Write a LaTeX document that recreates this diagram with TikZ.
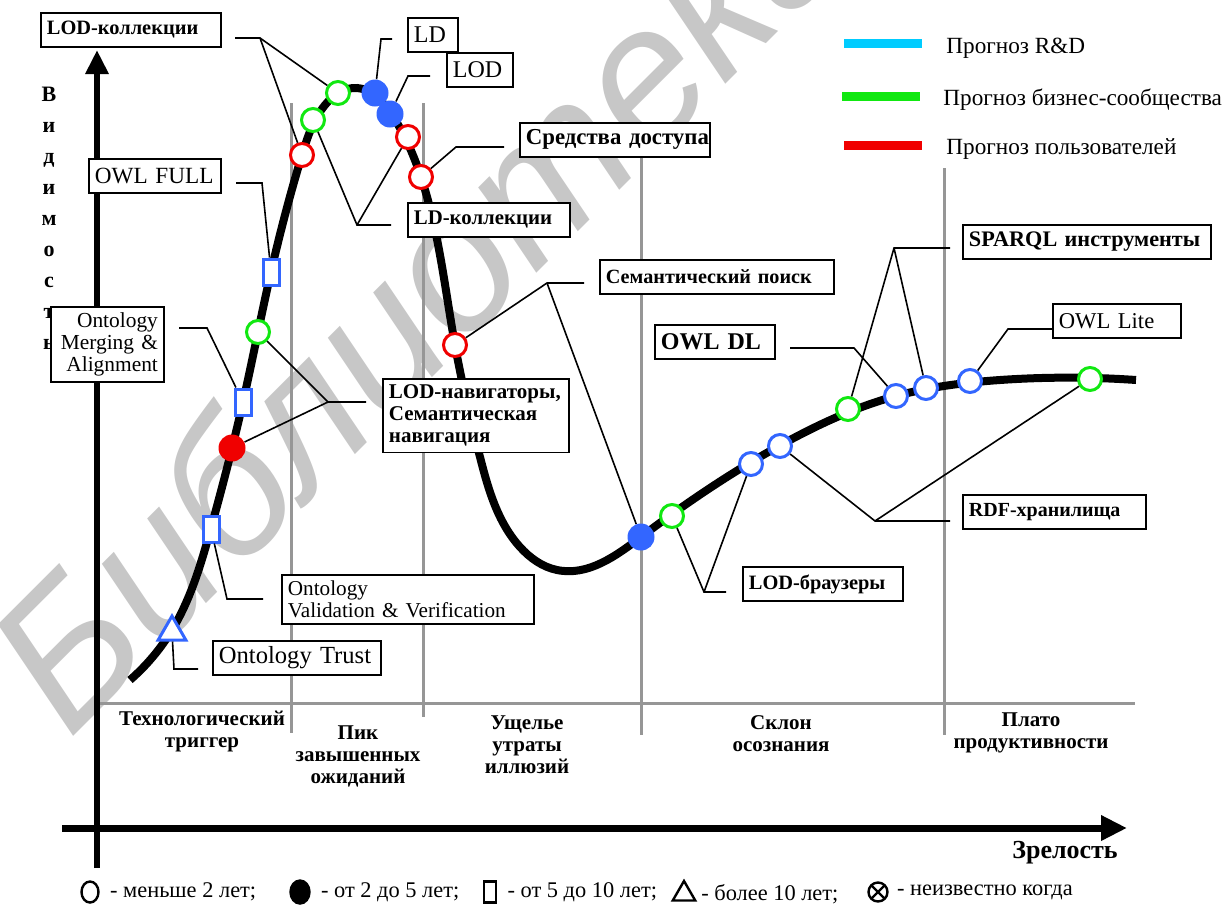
\documentclass[tikz,border=0pt]{standalone}
\usepackage{fontspec}
\setmainfont{Liberation Serif}
\newfontfamily\wmfont{Liberation Sans}
\usepackage{tikz}
\usetikzlibrary{hobby}
\usetikzlibrary{arrows.meta,shapes.geometric,positioning}

\definecolor{ptblue}{RGB}{51,102,255}
\definecolor{ptgreen}{RGB}{17,232,17}
\definecolor{ptred}{RGB}{240,0,0}
\definecolor{ptcyan}{RGB}{0,204,255}
\definecolor{divgray}{RGB}{150,150,150}

\begin{document}
\begin{tikzpicture}[x=0.5pt,y=-0.5pt,
        soon/.style={circle,draw,line width=1.5pt,fill=white,minimum size=11.5pt,inner sep=0pt},
        mid/.style={circle,minimum size=13.5pt,inner sep=0pt},
        late/.style={rectangle,draw=ptblue,line width=1.5pt,fill=white,minimum width=8pt,minimum height=13pt,inner sep=0pt},
        never/.style={regular polygon,regular polygon sides=3,draw=ptblue,line width=1.5pt,fill=white,minimum size=16pt,inner sep=0pt},
        lbl/.style={draw,line width=0.9pt,fill=white,anchor=north west,align=left,inner xsep=3pt,inner ysep=3pt,minimum height=17pt,
            execute at begin node={\hyphenpenalty=10000\exhyphenpenalty=10000}},
        bfl/.style={font=\bfseries\fontsize{#1}{11}\selectfont},
        rml/.style={font=\fontsize{#1}{11}\selectfont},
        lead/.style={draw,line width=0.8pt},
        phase/.style={align=center,anchor=north,inner sep=0pt,font=\bfseries\fontsize{10.5}{11}\selectfont},
        divider/.style={draw=divgray,line width=1.5pt},
        legtext/.style={anchor=west,inner sep=0pt,font=\fontsize{11.6}{13}\selectfont},
        keytext/.style={anchor=west,inner sep=0pt,font=\fontsize{11.2}{14}\selectfont},
        keysym/.style={draw,line width=1.2pt,inner sep=0pt}
    ]
        \useasboundingbox (0,0) rectangle (1231,906);

        %%WATERMARK
        \node[rotate=45,anchor=base west,text=black!22,font=\wmfont\itshape\fontsize{96}{96}\selectfont] (wmark) at (65,745) {Библиотека};

        %%PHASES
        % Dividers
        \path[divider] (291,103) -- (291,733);
        \path[divider] (423,103) -- (423,717);
        \path[divider] (641,155) -- (641,735);
        \path[divider] (944,168) -- (944,735);
        \path[divider] (100,703) -- (1135,703);

        %%AXES
        \path[draw,line width=3pt,-{Triangle[length=12pt,width=11pt]}] (97,868) -- (97,50);
        \path[draw,line width=3.5pt,-{Triangle[length=13pt,width=12pt]}] (62,828) -- (1127,828);

        %%HYPE CURVE
        \path[draw,line width=4pt,use Hobby shortcut] (130,680) .. (172,630) .. (211,528) .. (243,402) .. (271,272) .. (302,155) .. (325,105) .. (357,88) .. (390,112) .. (421,177) .. (455,345) .. (480,457) .. (520,547) .. (557,570) .. (641,537) .. (779,446) .. (896,396) .. (1000,380) .. (1136,380);

        %%FEATURES
        \node[never] (trustpt) at (172,632) {};
        \node[late] (validpt) at (211,529) {};
        \node[mid,fill=ptred] (navpt2) at (232,448) {};
        \node[late] (mergept) at (243,402) {};
        \node[soon,draw=ptgreen] (navpt1) at (258,332) {};
        \node[late] (owlfullpt) at (271,272) {};
        \node[soon,draw=ptred] (lodcollpt1) at (302,155) {};
        \node[soon,draw=ptgreen] (ldcollpt1) at (313,120) {};
        \node[soon,draw=ptgreen] (lodcollpt2) at (338,93) {};
        \node[mid,fill=ptblue] (ldpt) at (375,93) {};
        \node[mid,fill=ptblue] (lodpt) at (390,114) {};
        \node[soon,draw=ptred] (ldcollpt2) at (408,137) {};
        \node[soon,draw=ptred] (accpt) at (421,177) {};
        \node[soon,draw=ptred] (sempt1) at (455,345) {};
        \node[mid,fill=ptblue] (sempt2) at (641,537) {};
        \node[soon,draw=ptgreen] (browpt1) at (672,516) {};
        \node[soon,draw=ptblue] (browpt2) at (751,464) {};
        \node[soon,draw=ptblue] (rdfpt1) at (780,446) {};
        \node[soon,draw=ptgreen] (sparpt1) at (848,409) {};
        \node[soon,draw=ptblue] (owldlpt) at (896,396) {};
        \node[soon,draw=ptblue] (sparpt2) at (926,388) {};
        \node[soon,draw=ptblue] (owllitept) at (970,381) {};
        \node[soon,draw=ptgreen] (rdfpt2) at (1090,379) {};

        %%LABELS
        \node[align=center,font=\bfseries\fontsize{11}{15.5}\selectfont] (visib) at (49,218) {В\\и\\д\\и\\м\\о\\с\\т\\ь};
        \node[lbl,bfl=10.2,text width=84pt] (lodcoll) at (40,12) {LOD-коллекции};
        \node[lbl,rml=12,text width=19pt] (ld) at (407,17) {LD};
        \node[lbl,rml=12,text width=27pt] (lod) at (446,52) {LOD};
        \node[lbl,bfl=11.4,text width=89pt] (access) at (519,122) {Средства~доступа};
        \node[lbl,bfl=10.4,text width=75pt] (ldcoll) at (407,202) {LD-коллекции};
        \node[lbl,rml=11.6,text width=60pt] (owlfull) at (88,158) {OWL~FULL};
        \node[lbl,rml=10.7,text width=50.5pt,align=right] (merge) at (50,306) {Ontology\\Merging \&\\Alignment};
        \node[lbl,bfl=10.5,text width=87pt] (navig) at (382,378) {LOD-навигаторы,\\Семантическая\\навигация};
        \node[lbl,bfl=10.1,text width=111pt] (semsearch) at (599,259) {Семантический~поиск};
        \node[lbl,bfl=11.1,text width=118pt] (sparql) at (962,224) {SPARQL~инструменты};
        \node[lbl,bfl=12,text width=54pt] (owldl) at (654,324) {OWL~DL};
        \node[lbl,rml=11.3,text width=58pt] (owllite) at (1052,303) {OWL~Lite};
        \node[lbl,bfl=10,text width=85.5pt] (rdf) at (962,494) {RDF-хранилища};
        \node[lbl,bfl=10.2,text width=74pt] (browsers) at (742,566) {LOD-браузеры};
        \node[lbl,rml=10.6,text width=120pt] (valid) at (281,574) {Ontology\\Validation~\&~Verification};
        \node[lbl,rml=12.3,text width=78pt] (trust) at (212,640) {Ontology~Trust};

        %%LEADERS
        \coordinate (lodcollS) at (235,38);   \coordinate (lodcollK) at (260,38);
        \coordinate (ldS) at (392,39);        \coordinate (ldK) at (381,39);
        \coordinate (lodS) at (430,76);       \coordinate (lodK) at (408,76);
        \coordinate (accS) at (504,147);      \coordinate (accK) at (456,147);
        \coordinate (ldcollS) at (391,225);   \coordinate (ldcollK) at (357,225);
        \coordinate (owlfullS) at (236,183);  \coordinate (owlfullK) at (262,183);
        \coordinate (mergeS) at (179,328);    \coordinate (mergeK) at (207,328);
        \coordinate (navigS) at (366,402);    \coordinate (navigK) at (328,402);
        \coordinate (validS) at (263,599);    \coordinate (validK) at (227,599);
        \coordinate (trustS) at (198,669);    \coordinate (trustK) at (174,669);
        \coordinate (semS) at (584,283);      \coordinate (semK) at (547,283);
        \coordinate (sparS) at (950,248);     \coordinate (sparK) at (894,248);
        \coordinate (owldlS) at (790,348);    \coordinate (owldlK) at (854,348);
        \coordinate (owlliteS) at (1053,329); \coordinate (owlliteK) at (1008,329);
        \coordinate (rdfS) at (950,521);      \coordinate (rdfK) at (875,521);
        \coordinate (browS) at (726,592);     \coordinate (browK) at (704,592);

        \path[lead] (lodcollS) -- (lodcollK) -- (lodcollpt2);
        \path[lead] (lodcollK) -- (lodcollpt1);
        \path[lead] (ldS) -- (ldK) -- (ldpt);
        \path[lead] (lodS) -- (lodK) -- (lodpt);
        \path[lead] (accS) -- (accK) -- (accpt);
        \path[lead] (ldcollS) -- (ldcollK) -- (ldcollpt1);
        \path[lead] (ldcollK) -- (ldcollpt2);
        \path[lead] (owlfullS) -- (owlfullK) -- (owlfullpt);
        \path[lead] (mergeS) -- (mergeK) -- (mergept);
        \path[lead] (navigS) -- (navigK) -- (navpt1);
        \path[lead] (navigK) -- (navpt2);
        \path[lead] (validS) -- (validK) -- (validpt);
        \path[lead] (trustS) -- (trustK) -- (trustpt);
        \path[lead] (semS) -- (semK) -- (sempt1);
        \path[lead] (semK) -- (sempt2);
        \path[lead] (sparS) -- (sparK) -- (sparpt1);
        \path[lead] (sparK) -- (sparpt2);
        \path[lead] (owldlS) -- (owldlK) -- (owldlpt);
        \path[lead] (owlliteS) -- (owlliteK) -- (owllitept);
        \path[lead] (rdfS) -- (rdfK) -- (rdfpt1);
        \path[lead] (rdfK) -- (rdfpt2);
        \path[lead] (browS) -- (browK) -- (browpt1);
        \path[lead] (browK) -- (browpt2);

        %%FORECAST LEGEND
        \fill[ptcyan] (844,39) rectangle (922,48);
        \node[legtext] (rdleg) at (946,48) {Прогноз R\&D};
        \fill[ptgreen] (842,92) rectangle (920,101);
        \node[legtext] (bizleg) at (943,100) {Прогноз бизнес-сообщества};
        \fill[ptred] (844,141) rectangle (922,150);
        \node[legtext] (userleg) at (946,149) {Прогноз пользователей};

        %%PHASE NAMES
        \node[phase] (trigger) at (202,711) {Технологический\\триггер};
        \node[phase] (peak) at (358,725) {Пик\\завышенных\\ожиданий};
        \node[phase] (trough) at (527,715) {Ущелье\\утраты\\иллюзий};
        \node[phase] (slope) at (781,715) {Склон\\осознания};
        \node[phase] (plateau) at (1031,712) {Плато\\продуктивности};
        \node[font=\bfseries\fontsize{13}{15}\selectfont] (maturity) at (1065,853) {Зрелость};

        %%TIME LEGEND
        \node[keysym,ellipse,minimum width=8.5pt,minimum height=10.5pt] (keysoon) at (90,892) {};
        \node[keytext,right=5pt of keysoon] (keysoontxt) {- меньше 2 лет;};
        \node[keysym,ellipse,fill=black,minimum width=9.5pt,minimum height=11.5pt] (keymid) at (300,892) {};
        \node[keytext,right=5pt of keymid] (keymidtxt) {- от 2 до 5 лет;};
        \node[keysym,rectangle,minimum width=6pt,minimum height=10.5pt] (keylate) at (490,892) {};
        \node[keytext,right=5pt of keylate] (keylatetxt) {- от 5 до 10 лет;};
        \node[keysym,regular polygon,regular polygon sides=3,minimum size=13pt] (keynever) at (684,894) {};
        \node[keytext,right=4pt of keynever] (keynevertxt) {- более 10 лет;};
        \node[keysym,circle,minimum size=9.5pt,path picture={\draw[line width=1.2pt] (path picture bounding box.south west) -- (path picture bounding box.north east) (path picture bounding box.north west) -- (path picture bounding box.south east);}] (keyunk) at (878,892) {};
        \node[keytext,right=4pt of keyunk] (keyunktxt) {- неизвестно когда};
\end{tikzpicture}
\end{document}
